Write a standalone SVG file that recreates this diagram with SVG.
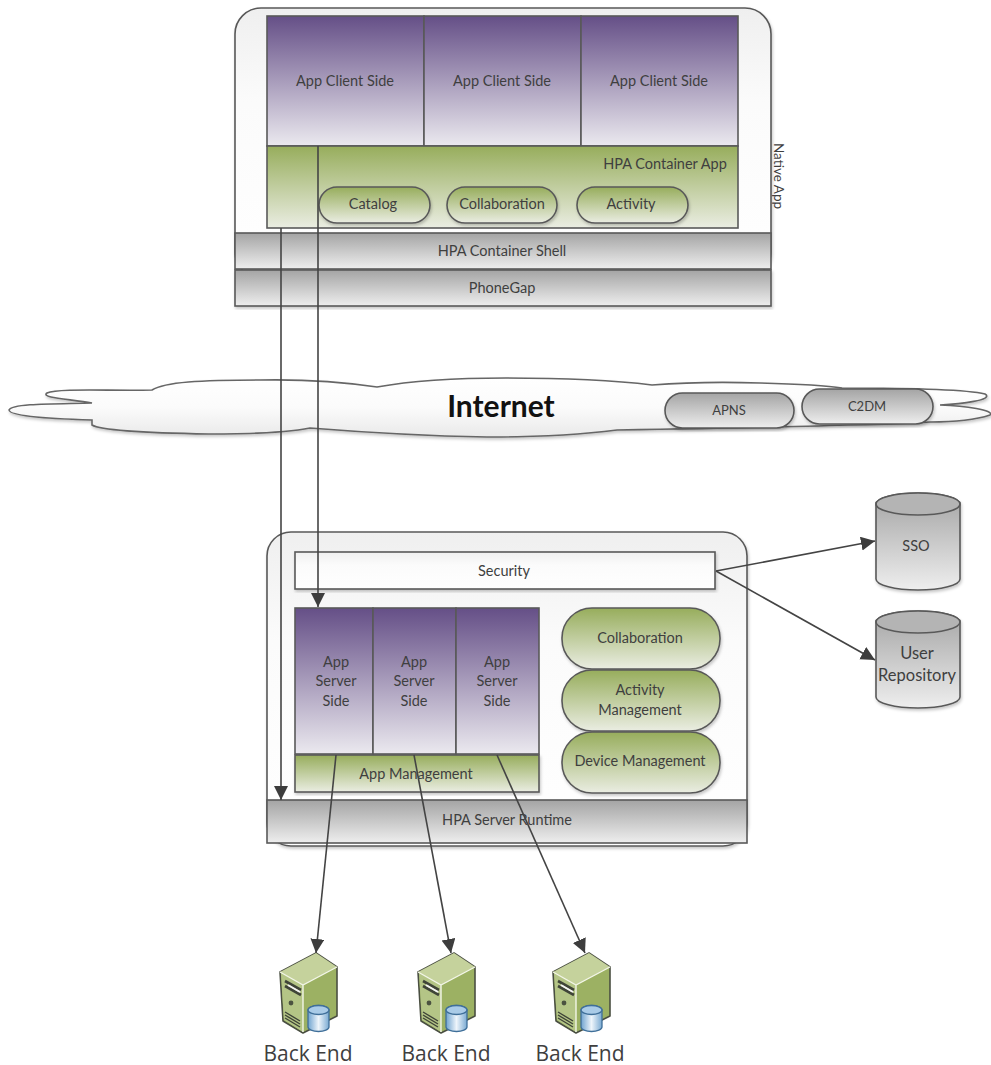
<svg xmlns="http://www.w3.org/2000/svg" xmlns:xlink="http://www.w3.org/1999/xlink" width="991" height="1065" viewBox="0 0 991 1065">
<style>
text{font-family:"Lato","Liberation Sans",sans-serif;font-size:14.5px;fill:#3f3f3f;text-anchor:middle}
.box{stroke:#595959;stroke-width:1.6}
.shadow{filter:url(#sh)}
.purple{fill:url(#gPurple)}
.green{fill:url(#gGreen)}
.gray{fill:url(#gGray)}
.pale{fill:url(#gPale)}
.conn{fill:none;stroke:#444;stroke-width:1.6;marker-end:url(#arrow)}
.be{font-family:"Open Sans","Liberation Sans",sans-serif;font-size:21px}
</style>
<defs>
<linearGradient id="gPurple" x1="0" y1="0" x2="0" y2="1"><stop offset="0" stop-color="#654f87"/><stop offset="1" stop-color="#ebe9ef"/></linearGradient>
<linearGradient id="gGreen" x1="0" y1="0" x2="0" y2="1"><stop offset="0" stop-color="#97ad5c"/><stop offset="1" stop-color="#eaede2"/></linearGradient>
<linearGradient id="gGray" x1="0" y1="0" x2="0" y2="1"><stop offset="0" stop-color="#a4a4a4"/><stop offset="1" stop-color="#eeeeee"/></linearGradient>
<linearGradient id="gPale" x1="0" y1="0" x2="0" y2="1"><stop offset="0" stop-color="#efefef"/><stop offset="0.35" stop-color="#fbfbfb"/><stop offset="1" stop-color="#ffffff"/></linearGradient>
<linearGradient id="gCloud" x1="0" y1="0" x2="0" y2="1"><stop offset="0" stop-color="#ffffff"/><stop offset="0.5" stop-color="#fbfbfb"/><stop offset="1" stop-color="#e9e9e9"/></linearGradient>
<linearGradient id="gDb" x1="0" y1="0" x2="1" y2="0"><stop offset="0" stop-color="#6fa3cf"/><stop offset="0.5" stop-color="#eef5fb"/><stop offset="1" stop-color="#7aaad2"/></linearGradient>
<filter id="sh" x="-5%" y="-5%" width="110%" height="115%"><feDropShadow dx="1" dy="2" stdDeviation="1.5" flood-color="#000" flood-opacity="0.22"/></filter>
<marker id="arrow" markerUnits="userSpaceOnUse" markerWidth="16" markerHeight="16" refX="14" refY="7" orient="auto"><path d="M0,0L14,7L0,14Z" fill="#3d3d3d"/></marker>
<g id="server">
<path d="M280,972L316,953L337,967L337,1016L303,1033L283,1021Z" fill="#9cb163" stroke="#4a4f42" stroke-width="1.6" stroke-linejoin="round"/>
<path d="M280,972L316,953L337,967L303,985Z" fill="#c5d29c"/>
<path d="M281,973L303,985L303,1032L284,1020Z" fill="#b4c586"/>
<path d="M280,972L303,985L337,967M303,985V1032" fill="none" stroke="#f3f6e8" stroke-width="1.4"/>
<path d="M285,981L301,990M285,986L301,995" stroke="#3f4438" stroke-width="2.6" fill="none"/>
<path d="M288,985L300,992" stroke="#f4f4f4" stroke-width="2" fill="none"/>
<circle cx="291" cy="1003" r="2.4" fill="#4b5240"/>
<path d="M285,1012L300,1021M285,1015L300,1024M285,1018L300,1027" stroke="#3f4438" stroke-width="1.4" fill="none"/>
<path d="M308,1010A10.5,4.5 0 0 1 329,1010V1027A10.5,4.5 0 0 1 308,1027Z" fill="url(#gDb)" stroke="#3f6f99" stroke-width="1.3"/>
<ellipse cx="318.5" cy="1010" rx="10.5" ry="4.5" fill="#a9cbe7" stroke="#3f6f99" stroke-width="1.3"/>
</g>
</defs>

<rect width="991" height="1065" fill="#fff"/>

<g id="native-app">
<rect class="box pale shadow" x="235" y="8" width="536" height="270" rx="26"/>
<text transform="translate(774,176) rotate(90)" style="font-size:13.5px">Native App</text>
</g>
<g id="client-sides">
<rect class="box purple" x="267" y="16" width="157" height="130"/>
<rect class="box purple" x="424" y="16" width="157" height="130"/>
<rect class="box purple" x="581" y="16" width="157" height="130"/>
<text x="345" y="86">App Client Side</text>
<text x="502" y="86">App Client Side</text>
<text x="659" y="86">App Client Side</text>
</g>
<g id="hpa-container-app">
<rect class="box green" x="267" y="146" width="471" height="82"/>
<text x="665" y="169">HPA Container App</text>
</g>
<g id="catalog"><rect class="box green shadow" x="319" y="187" width="111" height="36" rx="18"/><text x="373" y="209">Catalog</text></g>
<g id="collaboration-client"><rect class="box green shadow" x="447" y="187" width="110" height="36" rx="18"/><text x="502" y="209">Collaboration</text></g>
<g id="activity"><rect class="box green shadow" x="577" y="187" width="111" height="36" rx="18"/><text x="631" y="209">Activity</text></g>
<g id="shell"><rect class="box gray" x="235" y="233" width="536" height="36"/><text x="502" y="256">HPA Container Shell</text></g>
<g id="phonegap"><rect class="box gray shadow" x="235" y="270" width="536" height="36"/><text x="502" y="293">PhoneGap</text></g>

<g id="internet">
<path class="shadow" d="M92,403C70,399 40,398 47,393C58,388 110,391 152,390C165,382 200,380 260,380C310,379 350,383 377,387C410,381 460,378 506,378C570,378 620,381 652,385C690,382 730,382 760,383C800,384 830,386 842,388C880,388 960,388 985,394C995,400 960,404 940,405C965,406 995,410 990,415C975,420 950,422 930,422C900,424 870,425 848,425C790,427 680,429 617,430C570,436 520,437 487,437C430,436 360,432 310,428C290,432 250,434 209,434C150,433 100,430 92,425L92,420C60,419 10,417 9,410C12,403 60,404 92,403Z" fill="url(#gCloud)" stroke="#666" stroke-width="1.6"/>
<text x="501" y="417" style="font-size:30px;font-weight:bold;fill:#111">Internet</text>
</g>
<g id="apns"><rect class="box gray shadow" x="665" y="393" width="129" height="35" rx="17.5"/><text x="729" y="415" style="font-size:13px">APNS</text></g>
<g id="c2dm"><rect class="box gray shadow" x="802" y="389" width="131" height="35" rx="17.5"/><text x="867" y="411" style="font-size:13px">C2DM</text></g>

<g id="server-frame"><rect class="box pale shadow" x="267" y="532" width="480" height="314" rx="24"/></g>
<g id="security"><rect class="box pale shadow" x="295" y="552" width="420" height="37"/><text x="504" y="576">Security</text></g>
<g id="app-server-sides">
<rect class="box purple" x="295" y="608" width="78" height="146"/>
<rect class="box purple" x="373" y="608" width="83" height="146"/>
<rect class="box purple" x="456" y="608" width="83" height="146"/>
<text x="336" y="667">App</text><text x="336" y="686">Server</text><text x="336" y="706">Side</text>
<text x="414" y="667">App</text><text x="414" y="686">Server</text><text x="414" y="706">Side</text>
<text x="497" y="667">App</text><text x="497" y="686">Server</text><text x="497" y="706">Side</text>
</g>
<g id="app-management"><rect class="box green shadow" x="295" y="755" width="244" height="37"/><text x="416" y="779">App Management</text></g>
<g id="collaboration-server"><rect class="box green shadow" x="562" y="608" width="158" height="61" rx="30"/><text x="640" y="643">Collaboration</text></g>
<g id="activity-management"><rect class="box green shadow" x="562" y="670" width="158" height="61" rx="30"/><text x="640" y="695">Activity</text><text x="640" y="715">Management</text></g>
<g id="device-management"><rect class="box green shadow" x="562" y="732" width="158" height="61" rx="30"/><text x="640" y="766">Device Management</text></g>
<g id="runtime"><rect class="box gray" x="267" y="800" width="480" height="43"/><text x="507" y="825">HPA Server Runtime</text></g>

<g id="sso">
<path class="box gray shadow" d="M876,504A42,11 0 0 1 960,504V579A42,11 0 0 1 876,579Z"/>
<ellipse class="box" cx="918" cy="504" rx="42" ry="11" fill="#b4b4b4"/>
<text x="916" y="551">SSO</text>
</g>
<g id="user-repository">
<path class="box gray shadow" d="M876,622A42,11 0 0 1 960,622V697A42,11 0 0 1 876,697Z"/>
<ellipse class="box" cx="918" cy="622" rx="42" ry="11" fill="#b4b4b4"/>
<text x="917" y="659" style="font-size:16.5px">User</text><text x="917" y="681" style="font-size:16.5px">Repository</text>
</g>

<g id="backend-1"><use xlink:href="#server" href="#server"/><text class="be" x="308" y="1061">Back End</text></g>
<g id="backend-2"><use xlink:href="#server" href="#server" x="138"/><text class="be" x="446" y="1061">Back End</text></g>
<g id="backend-3"><use xlink:href="#server" href="#server" x="273"/><text class="be" x="580" y="1061">Back End</text></g>

<g id="connectors">
<path class="conn" d="M281,228V800"/>
<path class="conn" d="M318,146V607"/>
<path class="conn" d="M716,571L875,541"/>
<path class="conn" d="M716,571L875,660"/>
<path class="conn" d="M336,755L316,953"/>
<path class="conn" d="M414,755L451,953"/>
<path class="conn" d="M497,755L585,953"/>
</g>
</svg>
